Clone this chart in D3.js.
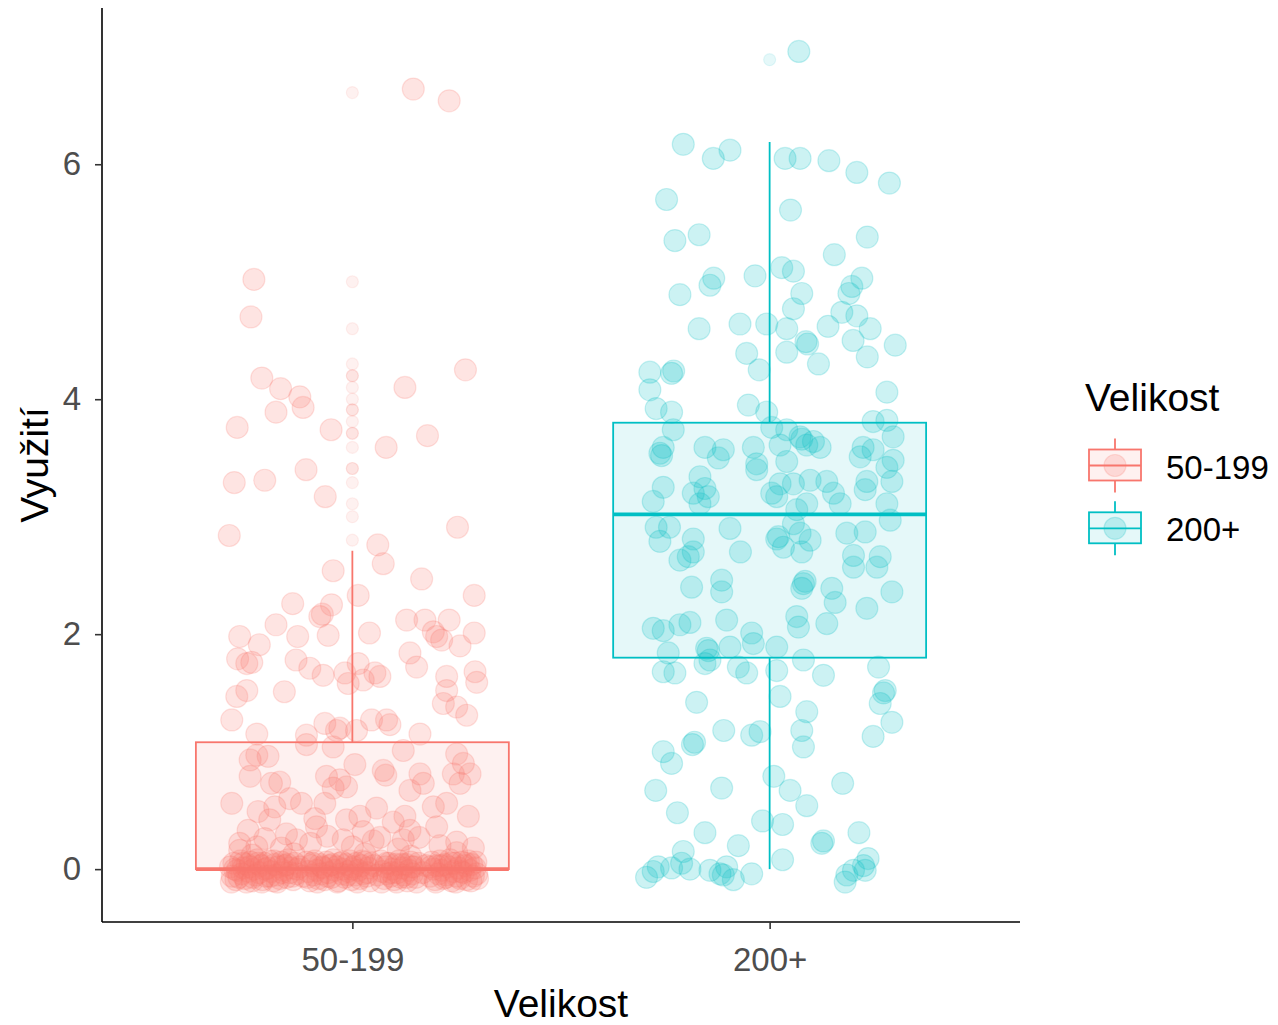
<!DOCTYPE html>
<html>
<head>
<meta charset="utf-8">
<script src="https://cdn.jsdelivr.net/npm/d3@7"></script>
<style>
  html, body { margin: 0; padding: 0; background: #ffffff; }
  svg text { font-family: "Liberation Sans", Arial, sans-serif; }
</style>
</head>
<body>
<svg id="chart" width="1278" height="1025"></svg>
<script>
// ---- data -------------------------------------------------------------
const categories = ["50-199", "200+"];
const groupColors = ["#F8766D", "#00BFC4"];
const yTicks = [0, 2, 4, 6];
const xTitle = "Velikost";
const yTitle = "Využití";
const legendTitle = "Velikost";

// box summaries: [lower whisker, Q1, median, Q3, upper whisker]
const boxSmall = [0, 0, 0, 1.08, 2.71];
const boxLarge = [0, 1.80, 3.02, 3.80, 6.19];

// boxplot outliers
const outliersSmall = [6.61, 5.00, 4.60, 4.30, 4.20, 4.20, 4.10, 4.00, 3.91, 3.91,
  3.81, 3.71, 3.71, 3.59, 3.41, 3.41, 3.29, 3.11, 3.00, 2.80];
const outliersLarge = [6.89];

// jittered observations: [horizontal offset in category steps, value]
const pointsSmall = [
  [0.146,6.64],[0.232,6.54],[-0.236,5.02],[-0.243,4.70],[0.271,4.25],[-0.217,4.18],[-0.172,4.09],
  [-0.126,4.02],[-0.118,3.93],[0.126,4.10],[-0.183,3.89],[-0.276,3.76],[-0.051,3.74],[0.180,3.69],
  [0.081,3.59],[-0.283,3.29],[-0.210,3.31],[-0.111,3.40],[-0.065,3.17],[-0.295,2.84],[0.252,2.91],
  [0.061,2.76],
  [0.074,2.60],[-0.046,2.54],[0.166,2.47],[0.292,2.33],[0.014,2.33],[-0.143,2.26],[-0.072,2.17],
  [-0.050,2.25],[-0.078,2.15],[-0.183,2.08],[-0.058,1.99],[0.041,2.01],[-0.131,1.98],[-0.270,1.98],
  [-0.223,1.91],[0.130,2.12],[0.174,2.12],[0.232,2.12],[0.202,1.98],[0.214,1.95],[0.194,2.02],
  [0.292,2.01],[0.258,1.90],[0.138,1.84],[0.154,1.72],[-0.275,1.79],[-0.253,1.75],[-0.241,1.76],
  [-0.135,1.78],[-0.102,1.71],[-0.070,1.65],[-0.018,1.67],[-0.010,1.58],[0.014,1.75],[0.026,1.61],
  [0.054,1.67],[0.066,1.64],[0.294,1.68],[0.298,1.59],[0.226,1.64],[0.226,1.52],[0.218,1.41],
  [0.250,1.38],[0.274,1.31],[-0.253,1.52],[-0.277,1.47],[-0.163,1.51],[-0.289,1.27],[-0.229,1.15],
  [-0.110,1.14],[-0.066,1.24],[-0.038,1.18],[-0.030,1.20],[0.010,1.18],[0.046,1.27],[0.082,1.27],
  [0.090,1.23],[0.162,1.15],
  [-0.229,0.97],[-0.245,0.93],[-0.202,0.96],[-0.245,0.79],[-0.174,0.74],[-0.194,0.73],[-0.289,0.56],
  [-0.226,0.49],[-0.186,0.53],[-0.150,0.60],[-0.122,0.56],[-0.198,0.42],[-0.250,0.33],[-0.158,0.30],
  [-0.090,0.43],[-0.086,0.36],[-0.110,1.06],[-0.046,1.04],[-0.062,0.79],[-0.030,0.76],[-0.046,0.69],
  [0.006,0.89],[-0.014,0.70],[-0.066,0.56],[-0.014,0.42],[0.018,0.45],[0.058,0.52],[0.074,0.84],
  [0.080,0.80],[0.122,1.01],[0.162,0.81],[0.170,0.73],[0.138,0.67],[0.250,0.98],[0.266,0.90],
  [0.282,0.81],[0.242,0.81],[0.258,0.73],[0.226,0.56],[0.194,0.53],[0.278,0.45],[0.202,0.36],
  [0.098,0.40],[0.126,0.45],[0.138,0.33],[0.066,0.27],[0.122,0.25],[0.250,0.23],[-0.022,0.25],
  [0.026,0.32],[-0.270,0.16],[-0.229,0.19],[-0.134,0.25],
  [-0.27,0.22],[-0.21,0.26],[-0.17,0.18],[-0.10,0.22],[-0.06,0.28],[0.00,0.19],[0.05,0.24],
  [0.11,0.17],[0.16,0.27],[0.21,0.20],[0.25,0.14],[0.29,0.18],[-0.24,0.12],[-0.14,0.13],
  [0.03,0.13],[0.14,0.11],
  // observations at (or near) zero
  [-0.292,0.02],[-0.288,-0.06],[-0.284,0.05],[-0.279,-0.09],[-0.276,-0.01],
  [-0.268,0.07],[-0.265,-0.04],[-0.261,0.01],[-0.257,-0.08],[-0.252,0.04],
  [-0.248,-0.02],[-0.244,0.06],[-0.240,-0.10],[-0.236,0.00],[-0.232,-0.05],
  [-0.228,0.08],[-0.223,-0.03],[-0.219,0.03],[-0.215,-0.09],[-0.211,0.05],
  [-0.207,-0.06],[-0.203,0.01],[-0.199,0.07],[-0.195,-0.02],[-0.190,-0.10],
  [-0.186,0.04],[-0.182,-0.05],[-0.178,0.02],[-0.174,-0.08],[-0.170,0.06],
  [-0.166,-0.01],[-0.162,0.03],[-0.158,-0.07],[-0.154,0.08],[-0.150,-0.03],
  [-0.146,0.01],[-0.142,-0.09],[-0.138,0.05],[-0.134,-0.04],
  [-0.126,0.02],[-0.118,-0.06],
  [-0.110,0.06],[-0.106,-0.02],[-0.102,-0.10],[-0.098,0.03],[-0.094,-0.05],
  [-0.090,0.07],[-0.086,-0.01],[-0.082,-0.08],[-0.078,0.04],[-0.074,-0.04],
  [-0.070,0.01],[-0.066,-0.09],[-0.062,0.06],[-0.058,-0.03],[-0.054,0.03],
  [-0.050,-0.07],[-0.046,0.08],[-0.042,-0.01],[-0.038,0.02],[-0.034,-0.10],
  [-0.030,0.05],[-0.026,-0.04],[-0.022,0.00],[-0.018,-0.07],[-0.014,0.04],
  [-0.010,-0.02],[-0.006,0.07],[-0.002,-0.09],[0.002,0.02],[0.006,-0.05],
  [0.010,0.05],[0.014,-0.01],[0.018,-0.08],[0.022,0.03],[0.026,-0.04],
  [0.030,0.06],[0.034,-0.06],[0.038,0.01],[0.042,-0.10],
  [0.052,0.03],[0.060,-0.05],
  [0.068,0.07],[0.072,-0.02],[0.076,-0.08],[0.080,0.02],[0.084,-0.04],
  [0.088,0.05],[0.092,-0.06],[0.096,0.00],[0.100,-0.09],[0.104,0.04],
  [0.108,-0.03],[0.112,0.07],[0.116,-0.07],[0.120,0.01],[0.124,-0.05],
  [0.128,0.04],[0.132,-0.10],[0.136,-0.01],[0.140,0.06],[0.144,-0.04],
  [0.148,0.02],[0.152,-0.07],[0.158,0.05],
  [0.168,-0.03],[0.176,0.03],
  [0.186,-0.06],[0.190,0.06],[0.194,0.00],[0.198,-0.09],[0.202,0.03],
  [0.206,-0.04],[0.210,0.07],[0.214,-0.01],[0.218,-0.08],[0.222,0.04],
  [0.226,-0.05],[0.230,0.02],[0.234,0.08],[0.238,-0.10],[0.242,-0.02],
  [0.246,0.05],[0.250,-0.06],[0.254,0.01],[0.258,-0.08],[0.262,0.06],
  [0.266,-0.03],[0.270,0.03],[0.274,-0.09],[0.278,0.07],[0.282,-0.01],
  [0.286,0.04],[0.290,-0.06],[0.294,0.01],[0.298,-0.04],
  [-0.290,-0.11],[-0.282,0.00],[-0.272,-0.07],[-0.262,0.05],[-0.254,-0.11],[-0.246,0.02],
  [-0.238,-0.07],[-0.226,0.05],[-0.217,-0.11],[-0.209,0.00],[-0.197,-0.06],[-0.188,0.07],
  [-0.180,-0.11],[-0.168,-0.03],[-0.156,0.04],[-0.144,-0.06],[-0.132,0.00],[-0.108,-0.07],
  [-0.096,0.05],[-0.084,-0.11],[-0.072,0.02],[-0.060,-0.06],[-0.048,0.04],[-0.036,-0.11],
  [-0.024,0.06],[-0.012,-0.05],[0.000,0.00],[0.012,-0.11],[0.024,0.07],[0.036,-0.03],
  [0.046,0.05],[0.070,-0.11],[0.082,0.05],[0.094,-0.03],[0.106,-0.11],[0.118,0.04],
  [0.130,-0.07],[0.142,0.02],[0.154,-0.11],[0.188,0.02],[0.200,-0.11],[0.212,0.03],
  [0.224,-0.07],[0.236,0.05],[0.248,-0.11],[0.260,-0.02],[0.272,0.05],[0.284,-0.10],
  [0.296,0.06],[0.300,-0.08]
];

const pointsLarge = [
  [0.070,6.96],[-0.207,6.17],[-0.135,6.05],[-0.095,6.12],[0.037,6.05],[0.073,6.05],[0.142,6.03],
  [0.209,5.93],[0.287,5.84],[-0.247,5.70],[0.050,5.61],[-0.227,5.35],[-0.169,5.40],[0.234,5.38],
  [0.155,5.23],[-0.134,5.03],[-0.143,4.97],[-0.035,5.05],[0.029,5.12],[0.057,5.09],[-0.215,4.89],
  [0.077,4.90],[0.221,5.03],[0.197,4.96],[0.190,4.90],
  [0.057,4.77],[0.173,4.74],[0.209,4.71],[-0.169,4.60],[-0.071,4.64],[-0.007,4.64],[0.041,4.60],
  [0.140,4.62],[0.241,4.60],[0.087,4.49],[0.091,4.47],[0.200,4.50],[0.301,4.46],[0.041,4.40],
  [-0.055,4.39],[0.234,4.36],[0.117,4.30],[-0.025,4.25],[-0.287,4.23],[-0.235,4.22],[-0.230,4.24],
  [-0.287,4.08],[0.281,4.06],[-0.051,3.95],[-0.272,3.92],[-0.235,3.89],[-0.007,3.89],[0.248,3.81],
  [0.281,3.82],[-0.231,3.74],[0.005,3.76],[0.041,3.74],[0.073,3.68],[0.077,3.66],[0.105,3.64],
  [0.089,3.61],[0.121,3.59],[0.296,3.68],[-0.263,3.54],[-0.259,3.52],[-0.255,3.59],[-0.155,3.59],
  [-0.111,3.57],[-0.123,3.50],[-0.039,3.59],[-0.031,3.45],[0.025,3.61],[0.041,3.47],[0.224,3.59],
  [0.248,3.57],[0.296,3.48],[0.281,3.42],[0.217,3.51],[-0.031,3.40],[-0.167,3.34],[-0.155,3.24],
  [-0.183,3.20],[-0.255,3.25],[-0.279,3.13],[-0.147,3.17],[-0.167,3.11],[0.005,3.20],[0.025,3.28],
  [0.057,3.28],[0.097,3.31],[0.137,3.30],[0.153,3.20],[0.169,3.11],[0.017,3.17],[0.233,3.30],
  [0.229,3.23],[0.293,3.30],[0.281,3.11],[0.089,3.11],[0.065,3.06],
  [-0.272,2.91],[-0.240,2.91],[-0.263,2.79],[-0.183,2.81],[-0.183,2.70],[-0.195,2.66],[-0.215,2.63],
  [-0.095,2.90],[-0.070,2.70],[0.017,2.81],[0.021,2.83],[0.033,2.74],[0.073,2.86],[0.097,2.80],
  [0.077,2.70],[0.057,2.94],[0.185,2.86],[0.229,2.87],[0.201,2.67],[0.201,2.57],[0.265,2.66],
  [0.257,2.57],[0.289,2.97],[-0.187,2.40],[-0.115,2.46],[-0.115,2.36],[0.081,2.43],[0.085,2.45],
  [0.077,2.39],[0.149,2.39],[0.157,2.27],[0.233,2.22],[0.293,2.36],[-0.279,2.05],[-0.255,2.03],
  [-0.215,2.08],[-0.191,2.10],[-0.103,2.12],[0.065,2.15],[0.069,2.06],[0.137,2.09],[-0.043,2.01],
  [-0.039,1.92],[-0.095,1.89],[-0.147,1.86],[-0.151,1.88],[-0.143,1.78],[0.017,1.89],[-0.243,1.84],
  [-0.255,1.68],[-0.227,1.67],[-0.155,1.75],[-0.075,1.72],[-0.055,1.67],[0.017,1.69],[0.081,1.78],
  [0.129,1.65],[0.261,1.72],[0.273,1.50],[0.277,1.52],[0.265,1.41],[-0.175,1.42],[0.025,1.47],
  [0.089,1.34],
  [0.293,1.25],[-0.110,1.18],[-0.043,1.14],[-0.023,1.17],[0.077,1.18],[0.081,1.04],[0.248,1.13],
  [-0.255,1.00],[-0.235,0.90],[-0.185,1.06],[-0.180,1.08],[-0.273,0.67],[-0.115,0.69],[0.010,0.79],
  [0.049,0.67],[0.089,0.54],[0.175,0.73],[-0.221,0.48],[-0.155,0.31],[-0.017,0.41],[0.031,0.38],
  [0.125,0.22],[0.129,0.24],[0.214,0.31],[-0.207,0.15],[-0.075,0.20],[0.031,0.08],[0.236,0.09],
  [-0.295,-0.07],[-0.279,-0.02],[-0.267,0.02],[-0.235,0.01],[-0.211,0.05],[-0.191,0.00],[-0.143,-0.01],
  [-0.119,-0.04],[-0.103,0.02],[-0.111,-0.05],[-0.087,-0.09],[-0.043,-0.04],[0.185,-0.05],[0.201,-0.01],
  [0.181,-0.11],[0.229,-0.01],[0.225,0.03]
];

// ---- layout -----------------------------------------------------------
const panel = { left: 102, right: 1020, top: 8, bottom: 922 };
const pointRadius = 11;
const outlierRadius = 6;

const groups = [
  { name: categories[0], color: groupColors[0], box: boxSmall, outliers: outliersSmall, points: pointsSmall },
  { name: categories[1], color: groupColors[1], box: boxLarge, outliers: outliersLarge, points: pointsLarge }
];

const svg = d3.select("#chart");

const x = d3.scalePoint()
  .domain(categories)
  .range([panel.left, panel.right])
  .padding(0.6);

const y = d3.scaleLinear()
  .domain([-0.45, 7.33])
  .range([panel.bottom, panel.top]);

const step = x.step();
const boxWidth = step * 0.75;

// ---- jittered points (drawn under the boxes) -------------------------
const pointLayer = svg.append("g");
groups.forEach(g => {
  pointLayer.append("g")
    .selectAll("circle")
    .data(g.points)
    .join("circle")
    .attr("cx", d => x(g.name) + d[0] * step)
    .attr("cy", d => y(d[1]))
    .attr("r", pointRadius)
    .attr("fill", g.color)
    .attr("fill-opacity", 0.2)
    .attr("stroke", g.color)
    .attr("stroke-opacity", 0.2)
    .attr("stroke-width", 1.2);
});

// ---- boxplots ---------------------------------------------------------
const boxLayer = svg.append("g");
groups.forEach(g => {
  const cx = x(g.name);
  const [lo, q1, med, q3, hi] = g.box;
  const bg = boxLayer.append("g");

  // outliers
  bg.selectAll("circle")
    .data(g.outliers)
    .join("circle")
    .attr("cx", cx)
    .attr("cy", d => y(d))
    .attr("r", outlierRadius)
    .attr("fill", g.color)
    .attr("fill-opacity", 0.1)
    .attr("stroke", g.color)
    .attr("stroke-opacity", 0.1)
    .attr("stroke-width", 1.2);

  // whiskers
  bg.append("line")
    .attr("x1", cx).attr("x2", cx)
    .attr("y1", y(q3)).attr("y2", y(hi))
    .attr("stroke", g.color).attr("stroke-width", 1.8);
  bg.append("line")
    .attr("x1", cx).attr("x2", cx)
    .attr("y1", y(q1)).attr("y2", y(lo))
    .attr("stroke", g.color).attr("stroke-width", 1.8);

  // box
  bg.append("rect")
    .attr("x", cx - boxWidth / 2)
    .attr("y", y(q3))
    .attr("width", boxWidth)
    .attr("height", y(q1) - y(q3))
    .attr("fill", g.color)
    .attr("fill-opacity", 0.1)
    .attr("stroke", g.color)
    .attr("stroke-width", 1.8);

  // median
  bg.append("line")
    .attr("x1", cx - boxWidth / 2).attr("x2", cx + boxWidth / 2)
    .attr("y1", y(med)).attr("y2", y(med))
    .attr("stroke", g.color).attr("stroke-width", 3.6);
});

// ---- axes -------------------------------------------------------------
const yAxis = svg.append("g")
  .attr("transform", `translate(${panel.left},0)`)
  .call(d3.axisLeft(y).tickValues(yTicks).tickSize(7).tickPadding(14).tickFormat(d3.format("d")));
yAxis.select(".domain").attr("d", `M0,${panel.top}V${panel.bottom}`);

const xAxis = svg.append("g")
  .attr("transform", `translate(0,${panel.bottom})`)
  .call(d3.axisBottom(x).tickSize(7).tickPadding(19));
xAxis.select(".domain").attr("d", `M${panel.left},0H${panel.right}`);

[yAxis, xAxis].forEach(a => {
  a.select(".domain").attr("stroke", "#000").attr("stroke-width", 1.6);
  a.selectAll(".tick line").attr("stroke", "#333").attr("stroke-width", 1.6);
  a.selectAll(".tick text")
    .attr("fill", "#4D4D4D")
    .style("font-family", "'Liberation Sans', Arial, sans-serif")
    .style("font-size", "33px");
});

// axis titles
svg.append("text")
  .attr("x", (panel.left + panel.right) / 2)
  .attr("y", 1017)
  .attr("text-anchor", "middle")
  .style("font-size", "39px")
  .attr("fill", "#000")
  .text(xTitle);

svg.append("text")
  .attr("transform", `translate(48,${(panel.top + panel.bottom) / 2}) rotate(-90)`)
  .attr("text-anchor", "middle")
  .style("font-size", "39px")
  .attr("fill", "#000")
  .text(yTitle);

// ---- legend -----------------------------------------------------------
const legend = svg.append("g").attr("transform", "translate(1085,0)");
legend.append("text")
  .attr("x", 0).attr("y", 411)
  .style("font-size", "39px")
  .attr("fill", "#000")
  .text(legendTitle);

const keyCenters = [465.5, 528.3];
groups.forEach((g, i) => {
  const kc = keyCenters[i];
  const kx = 30;
  const k = legend.append("g");
  k.append("circle")
    .attr("cx", kx).attr("cy", kc).attr("r", pointRadius)
    .attr("fill", g.color).attr("fill-opacity", 0.2)
    .attr("stroke", g.color).attr("stroke-opacity", 0.2).attr("stroke-width", 1.2);
  k.append("line")
    .attr("x1", kx).attr("x2", kx).attr("y1", kc - 27).attr("y2", kc - 16)
    .attr("stroke", g.color).attr("stroke-width", 1.8);
  k.append("line")
    .attr("x1", kx).attr("x2", kx).attr("y1", kc + 15).attr("y2", kc + 27)
    .attr("stroke", g.color).attr("stroke-width", 1.8);
  k.append("rect")
    .attr("x", kx - 26).attr("y", kc - 16).attr("width", 52).attr("height", 31)
    .attr("fill", g.color).attr("fill-opacity", 0.1)
    .attr("stroke", g.color).attr("stroke-width", 1.8);
  k.append("line")
    .attr("x1", kx - 26).attr("x2", kx + 26).attr("y1", kc).attr("y2", kc)
    .attr("stroke", g.color).attr("stroke-width", 1.8);
  k.append("text")
    .attr("x", 81).attr("y", kc + 13)
    .style("font-size", "33px")
    .attr("fill", "#000")
    .text(g.name);
});
</script>
</body>
</html>
